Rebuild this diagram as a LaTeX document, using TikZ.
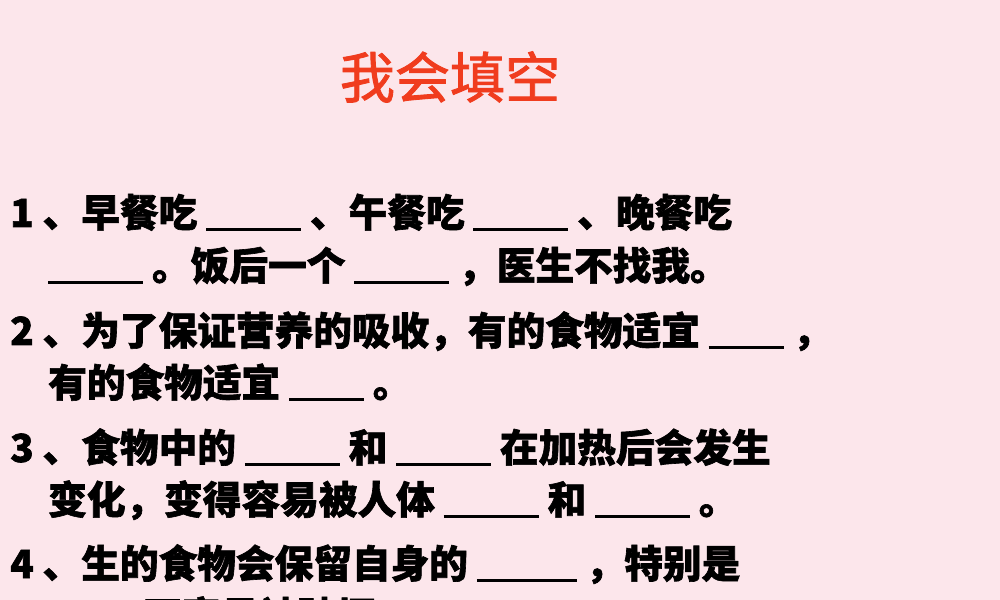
\documentclass[tikz,border=0pt]{standalone}
\usepackage{fontspec}
\newfontfamily\cjk[FakeBold=1.6]{Noto Sans CJK SC}
\setmainfont{Liberation Sans}
\definecolor{bg}{HTML}{FCE6EB}
\definecolor{tred}{HTML}{F03C1E}
\newcommand{\bk}[1]{\rule[-0.1em]{\dimexpr 0.03cm*#1\relax}{0.07em}}
\tikzset{ln/.style={anchor=base west,inner sep=0pt,font=\fontsize{33}{33}\selectfont\bfseries\cjk}}
\begin{document}
\begin{tikzpicture}[x=0.03cm,y=-0.03cm]
\fill[bg] (0,0) rectangle (1000,600);
\clip (0,0) rectangle (1000,600);
\node[anchor=base,inner sep=0pt,font=\fontsize{47}{47}\selectfont\cjk,text=tred] (t) at (450,98) {我会填空};
\node[ln] (l1) at (10,227) {1 、早餐吃 \bk{95} 、午餐吃 \bk{95} 、晚餐吃};
\node[ln] (l2) at (48,280) {\bk{95} 。饭后一个 \bk{95} ，医生不找我。};
\node[ln] (l3) at (10,345) {2 、为了保证营养的吸收，有的食物适宜 \bk{75} ，};
\node[ln] (l4) at (48,397) {有的食物适宜 \bk{75} 。};
\node[ln] (l5) at (10,462) {3 、食物中的 \bk{95} 和 \bk{95} 在加热后会发生};
\node[ln] (l6) at (48,514) {变化，变得容易被人体 \bk{95} 和 \bk{95} 。};
\node[ln] (l7) at (10,578) {4 、生的食物会保留自身的 \bk{100} ，特别是};
\node[ln] (l8) at (48,630) {\bk{95}不容易被破坏};
\end{tikzpicture}
\end{document}
